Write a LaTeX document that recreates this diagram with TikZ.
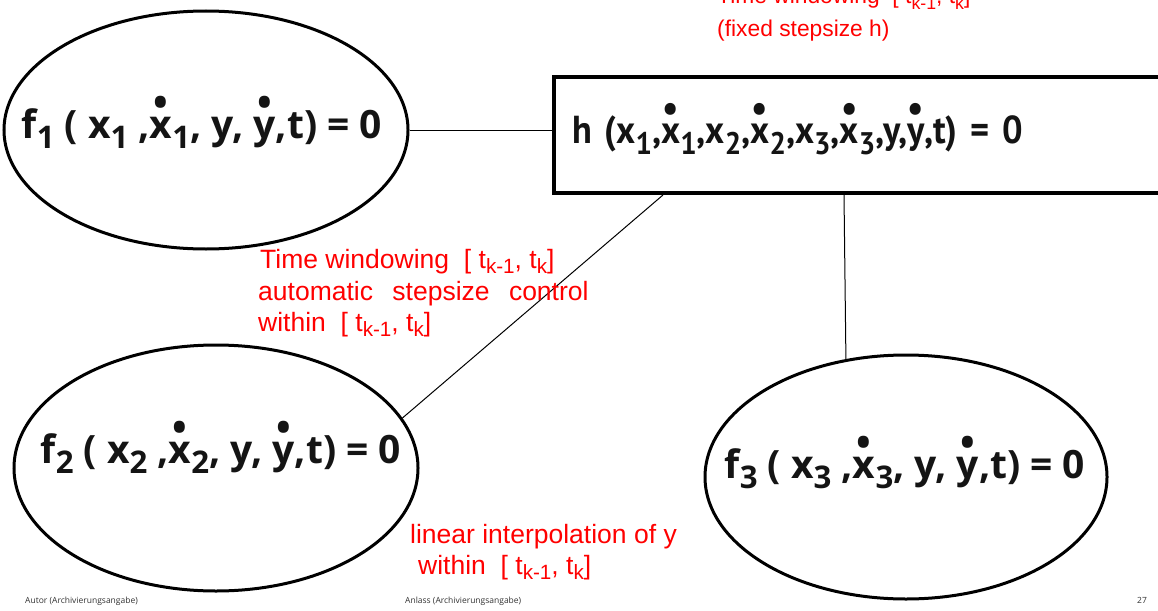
\documentclass[tikz,border=0pt]{standalone}
\usepackage{fontspec}
\setmainfont{PT Sans}
\newfontfamily\hfont[FakeStretch=0.93]{PT Sans}
\newfontfamily\rfont{Liberation Sans}
\newfontfamily\ffont{Open Sans}
\usetikzlibrary{shapes.geometric,calc}
\definecolor{redtxt}{RGB}{255,0,0}
\definecolor{blk}{RGB}{20,20,20}
\newcommand{\dt}[1]{{\ooalign{#1\cr\hidewidth\raisebox{0.55em}{\textbullet}\hidewidth\cr}}}
\newcommand{\lo}[1]{\raisebox{-0.28em}{\fontsize{0.8em}{1em}\selectfont #1}}
\newcommand{\rlo}[1]{\raisebox{-0.22em}{\fontsize{0.78em}{1em}\selectfont #1}}
\tikzset{
  eqn/.style={font=\hfont\fontsize{39}{42}\selectfont\bfseries, text=blk, inner sep=0pt},
  feqn/.style={font=\ffont\fontsize{39}{42}\selectfont\bfseries, text=blk, inner sep=0pt, anchor=base},
  ell/.style={ellipse, draw=black, line width=3pt, inner sep=0pt},
  hbox/.style={rectangle, draw=black, line width=4pt, eqn},
  conn/.style={draw=black, line width=1pt},
  note/.style={text=redtxt, font=\rfont\fontsize{26.5}{30}\selectfont, inner sep=0pt, anchor=base west},
  topnote/.style={note, font=\rfont\fontsize{22.8}{26}\selectfont},
  foot/.style={text=black!80, font=\ffont\fontsize{8.5}{10}\selectfont, inner sep=0pt, anchor=base west}
}
\begin{document}
\begin{tikzpicture}[x=1pt,y=-1pt]
\useasboundingbox[fill=white] (0,0) rectangle (1158,610);
\node[ell, minimum width=404pt, minimum height=238pt] (f1) at (206,130) {};
\node[ell, minimum width=404pt, minimum height=246pt] (f2) at (216,468) {};
\node[ell, minimum width=402pt, minimum height=244pt] (f3) at (906,477) {};
\node[feqn] (f1t) at ($(f1.center)+(-4,8)$)
  {f\lo{1} ( x\lo{1} ,\dt{x}\lo{1}, y, \dt{y},t) = 0};
\node[feqn] (f2t) at ($(f2.center)+(5,-5)$)
  {f\lo{2} ( x\lo{2} ,\dt{x}\lo{2}, y, \dt{y},t) = 0};
\node[feqn] (f3t) at ($(f3.center)+(-1,1)$)
  {f\lo{3} ( x\lo{3} ,\dt{x}\lo{3}, y, \dt{y},t) = 0};
\node[hbox, anchor=west, minimum height=116pt, text width=575pt, inner xsep=18pt, inner ysep=0pt, align=left] (h) at (552,135)
  {h (x\lo{1},\dt{x}\lo{1},x\lo{2},\dt{x}\lo{2},x\lo{3},\dt{x}\lo{3},y,\dt{y},t) = 0};
\draw[conn] (f1.east) -- (f1.east -| h.west);
\coordinate (hl) at ($(h.south west)+(111,0)$);
\coordinate (hr) at ($(h.south west)+(292,0)$);
\draw[conn] (hl) -- (f2.15);
\draw[conn] (hr) -- (f3.117);
\node[topnote] (t1) at (717,4) {Time windowing~~[ t\rlo{k-1}, t\rlo{k}]};
\node[topnote] (t2) at (717,37) {(fixed stepsize h)};
\node[note] (m1) at (260,268) {Time windowing~~[ t\rlo{k-1}, t\rlo{k}]};
\node[note] (m2) at (258,300) {automatic\hspace{12pt} stepsize\hspace{12pt} control};
\node[note] (m3) at (258,331) {within~~[ t\rlo{k-1}, t\rlo{k}]};
\node[note] (b1) at (410,543) {linear interpolation of y};
\node[note] (b2) at (418,574) {within~~[ t\rlo{k-1}, t\rlo{k}]};
\node[foot] (a1) at (25,603) {Autor (Archivierungsangabe)};
\node[foot] (a2) at (405,603) {Anlass (Archivierungsangabe)};
\node[foot] (a3) at (1137,603) {27};
\end{tikzpicture}
\end{document}
